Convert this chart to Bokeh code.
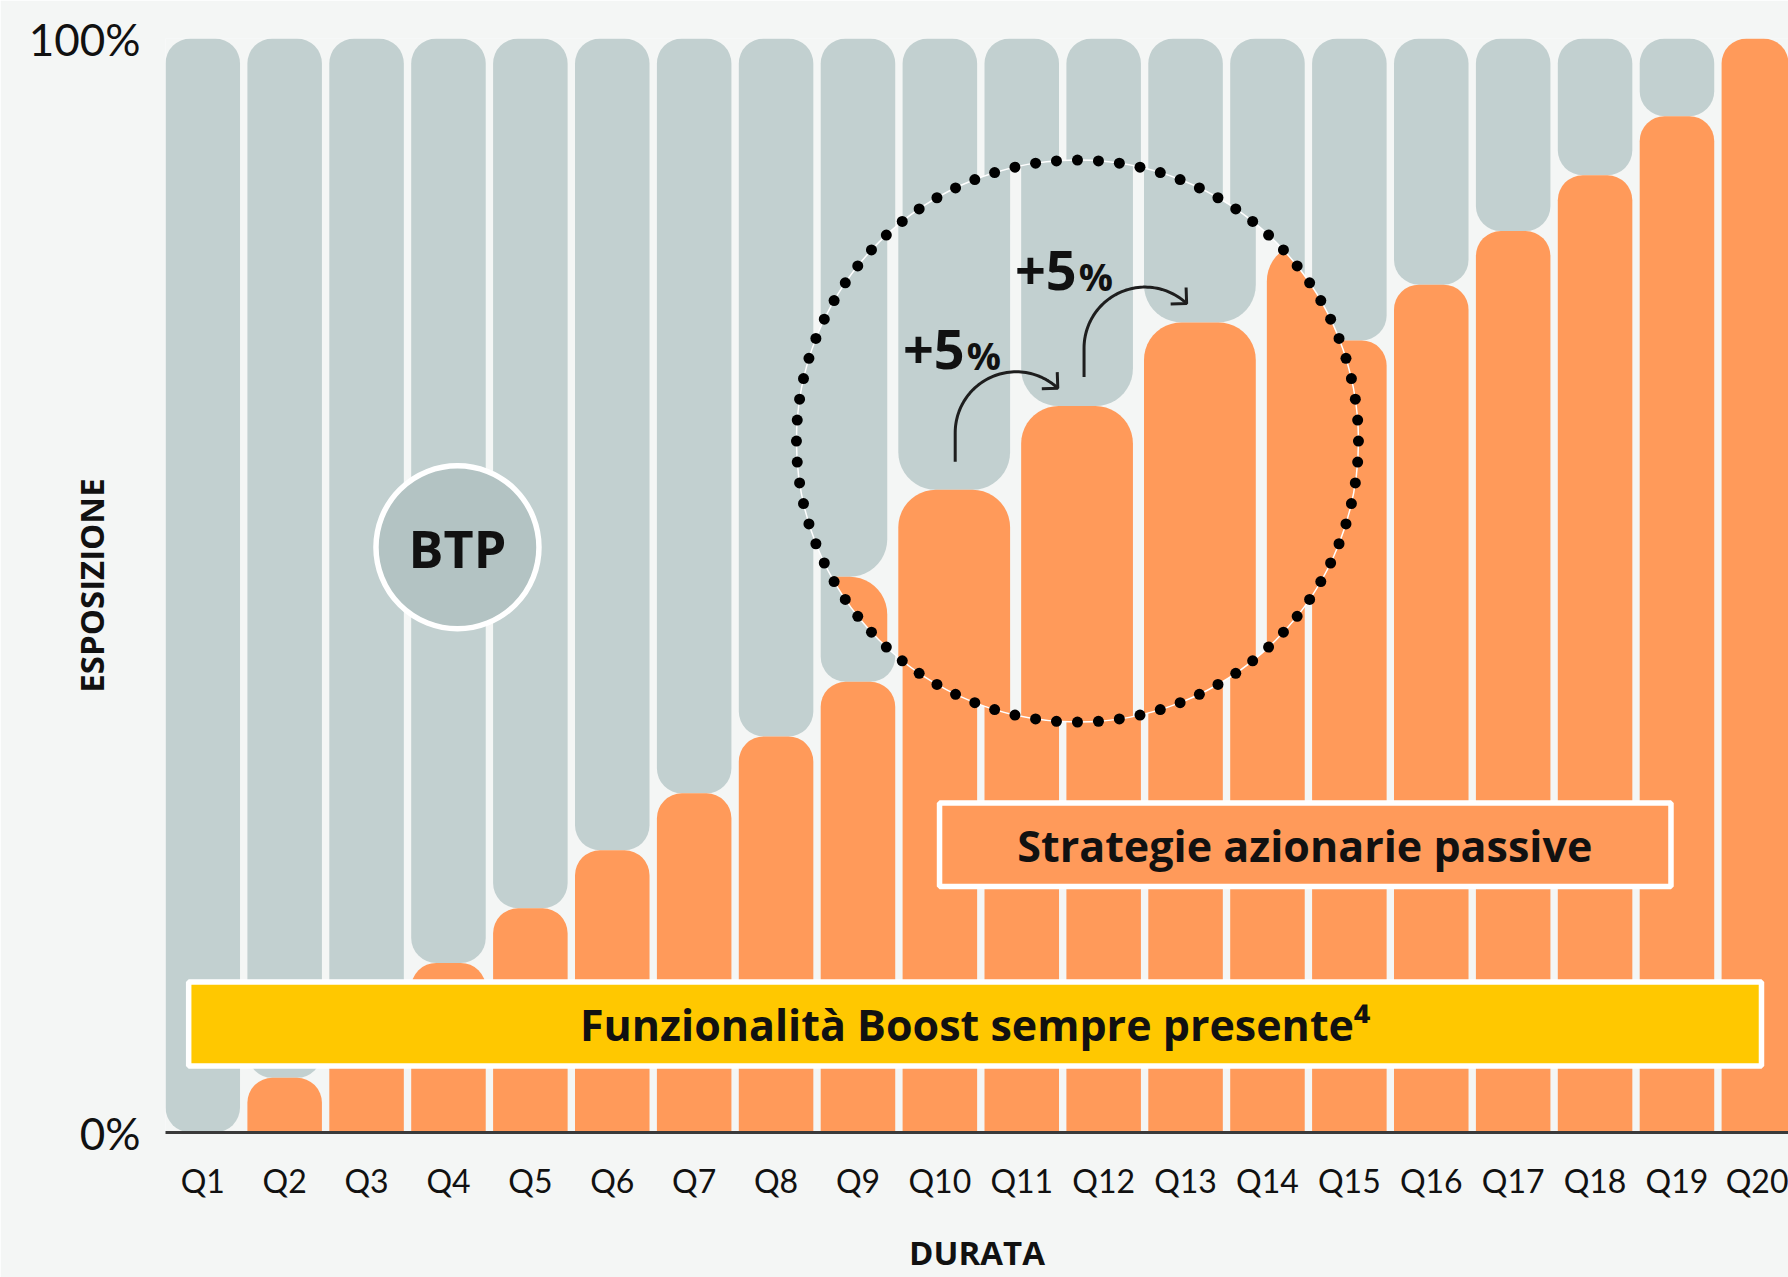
import math
import numpy as np
from bokeh.plotting import figure
from bokeh.models import Range1d, FixedTicker
from bokeh.embed import file_html
from bokeh.resources import INLINE
from bokeh.core.properties import value

# ---------------- data ----------------
categories = [f"Q{i}" for i in range(1, 21)]
equity = [0, 5.0, 10.3, 15.5, 20.5, 25.8, 31.0, 36.2, 41.2, 46.5,
          51.6, 56.7, 61.5, 67.0, 72.4, 77.5, 82.4, 87.5, 92.9, 100]
btp = [100 - v for v in equity]
y_ticks = [0, 100]
y_tick_labels = ["0%", "100%"]
x_title = "DURATA"
y_title = "ESPOSIZIONE"
banner_text = "Funzionalità Boost sempre presente⁴"
equity_label = "Strategie azionarie passive"
btp_label = "BTP"
step_label_num = "+5"
step_label_pct = "%"
lens_steps = [10, 11]          # quarters whose step is annotated inside the lens

# ---------------- styles ----------------
BG = "#F4F6F5"
GRAY = "#C2D0D0"
GRAY_DARK = "#B3C3C3"
ORANGE = "#FF9A5A"
YELLOW = "#FFC800"
INK = "#111111"
FONT = "Lato"
BFONT = "Open Sans"

W, H = 1788, 1277
ML, MT, MB, MR = 165, 38, 145, 0
FW = W - ML - MR
FH = H - MT - MB
PITCH = 81.9             # px per category
X0 = 0.545
BAR_W = 0.91
RADIUS = 25

def sx(x):
    return ML + (x - X0) * PITCH
def sy(y):
    return MT + (100 - y) / 100 * FH
def ix(px):
    return X0 + (px - ML) / PITCH
def iy(py):
    return 100 - (py - MT) / FH * 100

p = figure(width=W, height=H, x_range=Range1d(X0, X0 + FW / PITCH), y_range=Range1d(0, 100),
           output_backend="svg", toolbar_location=None,
           min_border_left=ML, min_border_right=MR, min_border_top=MT, min_border_bottom=MB,
           background_fill_color=BG, border_fill_color=BG, outline_line_color=None)
p.xgrid.grid_line_color = None
p.ygrid.grid_line_color = None

xs_idx = list(range(1, 21))

# ---------------- main bars ----------------
gx = [x for x, b in zip(xs_idx, btp) if b > 0]
gb = [e for e, b in zip(equity, btp) if b > 0]
p.vbar(x=gx, width=BAR_W, bottom=gb, top=100, fill_color=GRAY, line_color=None,
       border_radius=RADIUS)
ox = [x for x, e in zip(xs_idx, equity) if e > 0]
ot = [e for e in equity if e > 0]
p.vbar(x=ox, width=BAR_W, bottom=0, top=ot, fill_color=ORANGE, line_color=None,
       border_radius=(RADIUS, RADIUS, 0, 0))

# ---------------- BTP bubble ----------------
BTP_POS = (4.11, 53.5)
p.scatter(x=[BTP_POS[0]], y=[BTP_POS[1]], size=163, marker="circle",
          fill_color=GRAY_DARK, line_color="white", line_width=5.5)
p.text(x=[BTP_POS[0]], y=[BTP_POS[1]], text=[btp_label], text_font=value(BFONT),
       text_font_style="bold", text_font_size="52px", text_align="center",
       text_baseline="middle", text_color=INK)

# ---------------- lens (magnified view) ----------------
LENS_FOCUS = (9.65, 22.0)
LENS_CENTER = (11.68, 63.2)
LENS_R = 281
LENS_ZOOM = 1.5

fx, fy = sx(LENS_FOCUS[0]), sy(LENS_FOCUS[1])
ccx, ccy = sx(LENS_CENTER[0]), sy(LENS_CENTER[1])

def tx(px):
    return fx + LENS_ZOOM * (px - fx)
def ty(py):
    return fy + LENS_ZOOM * (py - fy)

def rounded_rect(l, r, t, b, rt, rb, n=12):
    pts = []
    def arc(cx, cy, rad, a0, a1):
        if rad <= 0:
            pts.append((cx, cy))
            return
        for a in np.linspace(math.radians(a0), math.radians(a1), n):
            pts.append((cx + rad * math.cos(a), cy + rad * math.sin(a)))
    arc(l + rt, t + rt, rt, 180, 270)
    arc(r - rt, t + rt, rt, 270, 360)
    arc(r - rb, b - rb, rb, 0, 90)
    arc(l + rb, b - rb, rb, 90, 180)
    return pts

def cross(a, b, q):
    return (b[0] - a[0]) * (q[1] - a[1]) - (b[1] - a[1]) * (q[0] - a[0])

circle_poly = [(ccx + LENS_R * math.cos(a), ccy + LENS_R * math.sin(a))
               for a in np.linspace(0, 2 * math.pi, 240, endpoint=False)]

def clip_to_lens(subject):
    out = subject
    n = len(circle_poly)
    for i in range(n):
        A = circle_poly[i]
        B = circle_poly[(i + 1) % n]
        sref = cross(A, B, (ccx, ccy))
        inp = out
        out = []
        if not inp:
            break
        def inside(P):
            return cross(A, B, P) * sref >= 0
        def inter(P, Q):
            cp, cq = cross(A, B, P), cross(A, B, Q)
            t = cp / (cp - cq)
            return (P[0] + t * (Q[0] - P[0]), P[1] + t * (Q[1] - P[1]))
        S = inp[-1]
        for E in inp:
            if inside(E):
                if not inside(S):
                    out.append(inter(S, E))
                out.append(E)
            elif inside(S):
                out.append(inter(S, E))
            S = E
    return out

gray_xs, gray_ys, or_xs, or_ys = [], [], [], []
for k, e, b in zip(xs_idx, equity, btp):
    l, r = tx(sx(k - BAR_W / 2)), tx(sx(k + BAR_W / 2))
    rr = RADIUS * LENS_ZOOM
    if b > 0:
        poly = clip_to_lens(rounded_rect(l, r, ty(sy(100)), ty(sy(e)), rr, rr))
        if len(poly) > 2:
            gray_xs.append([ix(q[0]) for q in poly])
            gray_ys.append([iy(q[1]) for q in poly])
    if e > 0:
        poly = clip_to_lens(rounded_rect(l, r, ty(sy(e)), ty(sy(0)), rr, 0))
        if len(poly) > 2:
            or_xs.append([ix(q[0]) for q in poly])
            or_ys.append([iy(q[1]) for q in poly])

p.scatter(x=[LENS_CENTER[0]], y=[LENS_CENTER[1]], size=2 * LENS_R, marker="circle",
          fill_color=BG, line_color=None)
p.patches(xs=gray_xs, ys=gray_ys, fill_color=GRAY, line_color=None)
p.patches(xs=or_xs, ys=or_ys, fill_color=ORANGE, line_color=None)
p.scatter(x=[LENS_CENTER[0]], y=[LENS_CENTER[1]], size=2 * LENS_R, marker="circle",
          fill_color=None, line_color="white", line_width=1.5)
N_DOTS = 84
ang = np.linspace(0, 2 * math.pi, N_DOTS, endpoint=False)
p.scatter(x=[ix(ccx + LENS_R * math.cos(a)) for a in ang],
          y=[iy(ccy + LENS_R * math.sin(a)) for a in ang],
          size=11, marker="circle", fill_color="black", line_color=None)

# ---------------- step arrows inside lens ----------------
ARROW_R = 61
ARROW_END = 47
# start dx, start dy, label dx, label dy (px, relative to magnified bar top centre)
arrow_offsets = [(1, -28, 11.5, -140.5), (7, -29, 0.6, -135.8)]
for k, (sdx, sdy, ldx, ldy) in zip(lens_steps, arrow_offsets):
    e = equity[k - 1]
    xc = tx(sx(k))
    top = ty(sy(e))
    x_start, y_start = xc + sdx, top + sdy
    acx, acy = x_start + ARROW_R, y_start - 29
    pts = [(x_start, y_start)]
    for a in np.linspace(180, ARROW_END, 60):
        ar = math.radians(a)
        pts.append((acx + ARROW_R * math.cos(ar), acy - ARROW_R * math.sin(ar)))
    p.line(x=[ix(q[0]) for q in pts], y=[iy(q[1]) for q in pts], line_color="#1E1E1E",
           line_width=3)
    tipx, tipy = pts[-1]
    ar = math.radians(ARROW_END)
    bx, by = -math.sin(ar), -math.cos(ar)
    arms = []
    for rot in (math.radians(45), math.radians(-45)):
        cx_ = bx * math.cos(rot) - by * math.sin(rot)
        cy_ = bx * math.sin(rot) + by * math.cos(rot)
        arms.append((tipx + 16 * cx_, tipy + 16 * cy_))
    p.line(x=[ix(arms[0][0]), ix(tipx), ix(arms[1][0])],
           y=[iy(arms[0][1]), iy(tipy), iy(arms[1][1])], line_color="#1E1E1E", line_width=3)
    lx, ly = xc + ldx, top + ldy
    p.text(x=[ix(lx - 1)], y=[iy(ly)], text=[step_label_num], text_font=value(BFONT),
           text_font_style="bold", text_font_size="54px", text_align="right",
           text_baseline="middle", text_color=INK)
    p.text(x=[ix(lx + 1)], y=[iy(ly + 5.7)], text=[step_label_pct], text_font=value(BFONT),
           text_font_style="bold", text_font_size="38px", text_align="left",
           text_baseline="middle", text_color=INK)

# ---------------- labelled boxes ----------------
EQ_BOX = dict(left=9.996, right=18.927, bottom=22.49, top=30.11)
p.quad(**EQ_BOX, fill_color=ORANGE, line_color="white", line_width=5.5)
p.text(x=[14.456], y=[iy(845)], text=[equity_label], text_font=value(BFONT), text_font_style="bold",
       text_font_size="43px", text_align="center", text_baseline="middle", text_color=INK)

BANNER = dict(left=0.828, right=20.032, bottom=6.08, top=13.76)
p.quad(**BANNER, fill_color=YELLOW, line_color="white", line_width=5.5)
p.text(x=[10.43], y=[iy(1024)], text=[banner_text], text_font=value(BFONT), text_font_style="bold",
       text_font_size="43px", text_align="center", text_baseline="middle", text_color=INK)

# ---------------- axes ----------------
xa = p.xaxis[0]
xa.ticker = FixedTicker(ticks=xs_idx)
xa.major_label_overrides = {i: c for i, c in zip(xs_idx, categories)}
xa.major_tick_line_color = None
xa.minor_tick_line_color = None
xa.major_tick_out = 0
xa.minor_tick_out = 0
xa.axis_line_color = "#3a3a3a"
xa.axis_line_width = 3
xa.major_label_text_font = FONT
xa.major_label_text_font_size = "32px"
xa.major_label_text_color = INK
xa.major_label_standoff = 28
xa.axis_label = x_title
xa.axis_label_text_font = BFONT
xa.axis_label_text_font_style = "bold"
xa.axis_label_text_font_size = "33px"
xa.axis_label_text_color = INK
xa.axis_label_standoff = 27

ya = p.yaxis[0]
ya.ticker = FixedTicker(ticks=y_ticks)
ya.major_label_overrides = {t: s for t, s in zip(y_ticks, y_tick_labels)}
ya.major_tick_line_color = None
ya.minor_tick_line_color = None
ya.major_tick_out = 0
ya.minor_tick_out = 0
ya.axis_line_color = None
ya.major_label_text_font = FONT
ya.major_label_text_font_size = "44px"
ya.major_label_text_color = INK
ya.major_label_standoff = 25
ya.axis_label = y_title
ya.axis_label_text_font = BFONT
ya.axis_label_text_font_style = "bold"
ya.axis_label_text_font_size = "33px"
ya.axis_label_text_color = INK
ya.axis_label_standoff = -88

html = file_html(p, INLINE)
html = html.replace("<body>", '<body style="background-color:#F4F6F5;">', 1)
open("out.html", "w").write(html)
